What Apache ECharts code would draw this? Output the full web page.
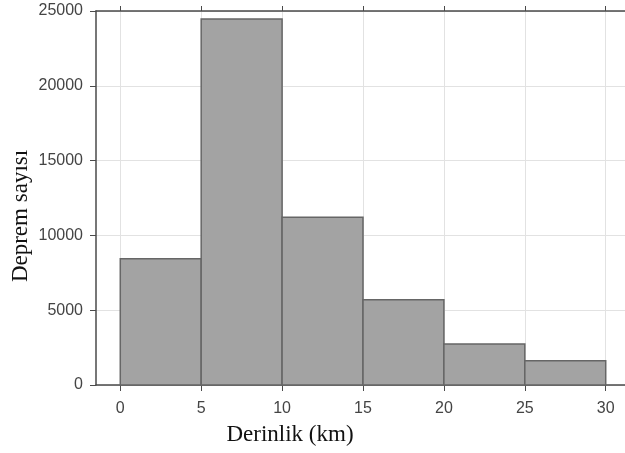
<!DOCTYPE html>
<html>
<head>
<meta charset="utf-8">
<script src="https://cdn.jsdelivr.net/npm/echarts@6/dist/echarts.min.js"></script>
<style>
  html, body { margin: 0; padding: 0; background: #fff; }
  #chart { width: 625px; height: 453px; }
</style>
</head>
<body>
<div id="chart"></div>
<script>
// histogram bins (km) and counts
const binStart = [0, 5, 10, 15, 20, 25]
const binEnd = [5, 10, 15, 20, 25, 30]
const counts = [8440, 24470, 11220, 5700, 2740, 1620]
const xTicks = [0, 5, 10, 15, 20, 25, 30]

const tickFont = { color: '#444', fontFamily: '"Liberation Sans", Arial, sans-serif', fontSize: 16 }
const titleFont = '"Liberation Serif", "Times New Roman", serif'

let myChart = echarts.init(document.getElementById('chart'))

myChart.setOption({
  animation: false,
  grid: {
    left: 96,
    width: 534,
    top: 11,
    bottom: 68,
    // plot frame runs past the right edge of the picture
    outerBoundsMode: 'none',
    containLabel: false
  },
  xAxis: [
    {
      type: 'value',
      position: 'bottom',
      min: -1.5,
      max: 31.5,
      axisLine: { show: true, lineStyle: { color: '#4a4a4a', width: 1.5 } },
      axisTick: { show: true, inside: false, length: 6, customValues: xTicks, lineStyle: { color: '#4a4a4a' } },
      axisLabel: Object.assign({ margin: 16, customValues: xTicks }, tickFont),
      splitLine: { show: true, lineStyle: { color: '#e2e2e2', width: 1 } }
    },
    {
      type: 'value',
      position: 'top',
      min: -1.5,
      max: 31.5,
      axisLine: { show: true, lineStyle: { color: '#4a4a4a', width: 1.5 } },
      axisTick: { show: true, inside: false, length: 5, customValues: xTicks, lineStyle: { color: '#4a4a4a' } },
      axisLabel: { show: false },
      splitLine: { show: false }
    }
  ],
  yAxis: {
    type: 'value',
    min: 0,
    max: 25000,
    interval: 5000,
    axisLine: { show: true, onZero: false, lineStyle: { color: '#4a4a4a', width: 1.5 } },
    axisTick: { show: true, inside: false, length: 6, lineStyle: { color: '#4a4a4a' } },
    axisLabel: Object.assign({ margin: 13, formatter: (v) => String(v) }, tickFont),
    splitLine: { show: true, lineStyle: { color: '#e2e2e2', width: 1 } }
  },
  graphic: [
    {
      type: 'text',
      x: 290,
      y: 435,
      style: {
        text: 'Derinlik (km)',
        fill: '#111',
        font: '23px ' + titleFont,
        align: 'center',
        verticalAlign: 'middle'
      }
    },
    {
      type: 'text',
      x: 21,
      y: 216,
      rotation: Math.PI / 2,
      style: {
        text: 'Deprem sayısı',
        fill: '#111',
        font: '23px ' + titleFont,
        align: 'center',
        verticalAlign: 'middle'
      }
    }
  ],
  series: [
    {
      type: 'custom',
      xAxisIndex: 0,
      renderItem: function (params, api) {
        let topLeft = api.coord([api.value(0), api.value(2)])
        let bottomRight = api.coord([api.value(1), 0])
        return {
          type: 'rect',
          shape: {
            x: topLeft[0],
            y: topLeft[1],
            width: bottomRight[0] - topLeft[0],
            height: bottomRight[1] - topLeft[1]
          },
          style: {
            fill: '#a3a3a3',
            stroke: '#666',
            lineWidth: 1.5
          }
        }
      },
      encode: { x: [0, 1], y: 2 },
      data: binStart.map((s, i) => [s, binEnd[i], counts[i]])
    }
  ]
})

window.addEventListener('resize', () => {
  myChart.resize()
})
</script>
</body>
</html>
